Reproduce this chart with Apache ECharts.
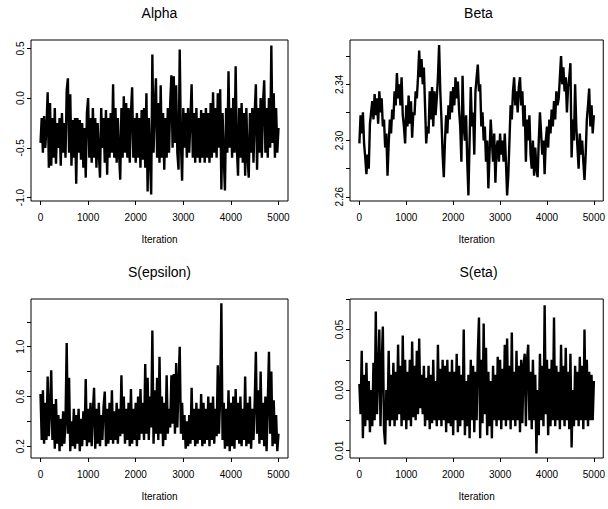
<!DOCTYPE html>
<html><head><meta charset="utf-8">
<script src="https://cdn.jsdelivr.net/npm/echarts@6/dist/echarts.min.js"></script>
<style>html,body{margin:0;padding:0;background:#fff}#c{width:608px;height:509px}</style>
</head><body><div id="c"></div>
<script>
// ---------------- data ----------------
const panelTitles = ["Alpha", "Beta", "S(epsilon)", "S(eta)"];
const xLabel = "Iteration";
const xTicks = [0, 1000, 2000, 3000, 4000, 5000];
const iterStep = 25; // one trace point read every 25 iterations
const iterations = [];
for (let i = 0; i <= 200; i++) iterations.push(i * iterStep);

const alphaTicks = [-1.0, -0.5, 0.0, 0.5];
const alphaLabels = [-1.0, -0.5, 0.0, 0.5];
const betaTicks = [2.26, 2.28, 2.30, 2.32, 2.34, 2.36];
const betaLabels = [2.26, 2.30, 2.34];
const epsTicks = [0.2, 0.4, 0.6, 0.8, 1.0, 1.2];
const epsLabels = [0.2, 0.6, 1.0];
const etaTicks = [0.01, 0.02, 0.03, 0.04, 0.05, 0.06];
const etaLabels = [0.01, 0.03, 0.05];

const alpha = [
-0.45,-0.2,-0.55,-0.18,-0.5,-0.3,0.06,-0.7,-0.05,-0.68,
-0.2,-0.6,-0.1,-0.66,-0.25,-0.5,-0.2,-0.68,-0.15,-0.55,
-0.25,-0.6,0.08,0.2,-0.55,0.04,-0.68,-0.22,-0.6,-0.2,
-0.86,-0.2,-0.55,-0.22,-0.62,-0.25,-0.7,-0.3,-0.8,-0.15,
0.0,-0.6,-0.2,-0.65,-0.1,-0.6,-0.2,-0.7,-0.25,-0.55,
-0.8,-0.1,-0.5,-0.2,-0.65,-0.12,-0.77,-0.2,-0.6,-0.15,
-0.55,0.14,-0.6,-0.1,-0.65,-0.2,-0.55,-0.82,-0.1,-0.6,
0.02,-0.55,-0.05,-0.6,-0.1,-0.65,-0.15,0.11,-0.6,-0.2,
-0.65,-0.15,-0.6,-0.2,-0.7,-0.12,-0.62,-0.1,-0.7,0.05,
-0.94,-0.2,-0.6,-0.97,0.44,-0.55,-0.1,0.2,-0.6,-0.05,
-0.65,0.13,-0.6,-0.15,-0.72,-0.2,-0.6,-0.1,-0.55,-0.05,
0.23,-0.5,0.22,-0.45,0.13,-0.55,-0.72,0.49,-0.45,-0.83,
-0.1,-0.5,-0.15,-0.6,-0.1,-0.55,-0.2,0.14,-0.6,-0.15,
-0.65,-0.1,-0.6,-0.2,-0.65,-0.12,-0.6,-0.15,-0.65,-0.1,
-0.6,-0.15,-0.65,-0.05,-0.6,0.06,-0.55,-0.1,-0.6,0.05,
-0.5,0.09,-0.92,-0.15,-0.6,-0.93,-0.1,-0.55,0.27,-0.5,
-0.1,-0.6,0.0,-0.55,0.32,-0.5,-0.78,-0.1,-0.6,-0.05,
-0.65,-0.15,-0.78,-0.1,-0.6,-0.8,-0.15,-0.55,-0.1,-0.65,
-0.15,0.14,-0.72,-0.1,-0.55,0.0,-0.6,-0.05,0.18,-0.55,
-0.1,-0.6,0.0,-0.5,0.53,-0.45,0.05,-0.6,-0.1,-0.55,
-0.3
];

const beta = [
2.298,2.318,2.305,2.32,2.298,2.288,2.276,2.29,2.28,2.312,
2.32,2.328,2.315,2.333,2.318,2.33,2.312,2.335,2.32,2.33,
2.31,2.315,2.295,2.305,2.275,2.298,2.315,2.305,2.322,2.315,
2.335,2.325,2.348,2.33,2.34,2.325,2.345,2.318,2.31,2.298,
2.325,2.31,2.332,2.312,2.328,2.302,2.32,2.318,2.335,2.33,
2.345,2.364,2.345,2.358,2.34,2.352,2.325,2.298,2.31,2.305,
2.335,2.315,2.338,2.31,2.335,2.318,2.33,2.345,2.368,2.335,
2.315,2.29,2.274,2.3,2.318,2.305,2.325,2.315,2.335,2.32,
2.338,2.325,2.345,2.33,2.342,2.322,2.31,2.285,2.346,2.31,
2.3,2.318,2.285,2.261,2.3,2.338,2.31,2.32,2.29,2.335,
2.345,2.354,2.335,2.34,2.31,2.32,2.3,2.31,2.285,2.3,
2.266,2.29,2.315,2.3,2.285,2.305,2.27,2.295,2.3,2.285,
2.305,2.29,2.3,2.285,2.305,2.285,2.261,2.275,2.3,2.325,
2.315,2.335,2.345,2.325,2.335,2.32,2.338,2.345,2.325,2.335,
2.31,2.325,2.285,2.315,2.3,2.318,2.29,2.28,2.3,2.275,
2.295,2.28,2.274,2.3,2.32,2.305,2.29,2.3,2.276,2.3,
2.31,2.295,2.315,2.305,2.322,2.31,2.328,2.315,2.335,2.325,
2.33,2.345,2.36,2.34,2.352,2.335,2.345,2.32,2.338,2.345,
2.355,2.288,2.315,2.3,2.34,2.31,2.295,2.28,2.305,2.29,
2.3,2.285,2.272,2.29,2.315,2.325,2.337,2.31,2.325,2.305,
2.318
];

const sEpsilon = [
0.62,0.25,0.65,0.22,0.55,0.25,0.76,0.28,0.5,0.81,
0.25,0.54,0.18,0.58,0.22,0.45,0.16,0.42,0.2,0.48,
0.22,0.4,1.03,0.3,0.75,0.16,0.4,0.2,0.5,0.18,
0.45,0.22,0.5,0.16,0.42,0.2,0.48,0.25,0.74,0.2,
0.5,0.23,0.55,0.2,0.48,0.67,0.18,0.5,0.22,0.55,
0.2,0.45,0.25,0.52,0.64,0.2,0.5,0.22,0.55,0.25,
0.65,0.22,0.48,0.25,0.55,0.22,0.5,0.28,0.77,0.3,
0.6,0.22,0.5,0.25,0.55,0.2,0.66,0.22,0.5,0.25,
0.55,0.2,0.6,0.25,0.66,0.3,0.55,0.25,0.86,0.3,
0.75,0.25,0.6,0.35,1.13,0.22,0.65,0.3,0.75,0.25,
0.92,0.3,0.6,0.2,0.55,0.25,0.77,0.3,0.5,0.35,
0.77,0.38,0.78,0.3,0.87,0.35,0.7,1.0,0.3,0.55,
0.25,0.45,0.18,0.4,0.2,0.45,0.22,0.67,0.25,0.5,
0.2,0.55,0.22,0.5,0.25,0.62,0.2,0.55,0.22,0.5,
0.25,0.6,0.2,0.55,0.25,0.6,0.22,0.5,0.28,0.85,
0.3,0.6,1.35,0.25,0.55,0.18,0.5,0.2,0.65,0.16,
0.55,0.2,0.6,0.18,0.66,0.25,0.55,0.22,0.6,0.2,
0.5,0.25,0.76,0.2,0.55,0.22,0.6,0.18,0.5,0.25,
0.55,0.96,0.3,0.65,0.22,0.8,0.25,0.55,0.2,0.6,
0.16,0.55,0.96,0.3,0.8,0.2,0.57,0.22,0.45,0.16,
0.3
];

const sEta = [
0.032,0.022,0.043,0.014,0.035,0.018,0.039,0.02,0.033,0.016,
0.03,0.018,0.039,0.02,0.056,0.022,0.035,0.05,0.018,0.038,
0.051,0.017,0.012,0.03,0.02,0.043,0.018,0.035,0.02,0.039,
0.018,0.036,0.02,0.045,0.022,0.038,0.018,0.048,0.02,0.04,
0.017,0.036,0.02,0.04,0.018,0.046,0.021,0.038,0.02,0.043,
0.022,0.047,0.024,0.035,0.022,0.038,0.018,0.034,0.02,0.038,
0.017,0.035,0.019,0.04,0.02,0.033,0.018,0.045,0.02,0.037,
0.018,0.04,0.02,0.038,0.016,0.04,0.019,0.036,0.018,0.04,
0.015,0.036,0.02,0.042,0.016,0.038,0.018,0.035,0.02,0.05,
0.015,0.033,0.018,0.035,0.014,0.04,0.02,0.038,0.016,0.036,
0.02,0.042,0.054,0.014,0.04,0.019,0.052,0.022,0.044,0.015,
0.036,0.018,0.033,0.014,0.038,0.02,0.035,0.018,0.041,0.02,
0.04,0.017,0.037,0.02,0.045,0.018,0.047,0.02,0.038,0.017,
0.049,0.02,0.036,0.018,0.043,0.02,0.038,0.016,0.04,0.019,
0.038,0.042,0.018,0.04,0.045,0.02,0.036,0.017,0.04,0.02,
0.035,0.009,0.03,0.015,0.042,0.02,0.038,0.018,0.058,0.022,
0.04,0.015,0.037,0.018,0.04,0.02,0.054,0.018,0.038,0.02,
0.036,0.017,0.045,0.02,0.038,0.018,0.044,0.02,0.036,0.017,
0.042,0.011,0.03,0.018,0.038,0.02,0.036,0.018,0.041,0.02,
0.038,0.017,0.05,0.02,0.04,0.018,0.036,0.02,0.035,0.02,
0.033
];

// ---------------- layout ----------------
const FONT = "'Liberation Sans', Arial, Helvetica, sans-serif";
const panels = [
  { values: alpha,    ticks: alphaTicks, labels: alphaLabels, dec: 1, min: -1.035, max: 0.585,  lw: 2.4, grid: { left: 31,  top: 40,  width: 257, height: 161 } },
  { values: beta,     ticks: betaTicks,  labels: betaLabels,  dec: 2, min: 2.257,  max: 2.3715, lw: 2.4, grid: { left: 350, top: 40,  width: 257, height: 161 } },
  { values: sEpsilon, ticks: epsTicks,   labels: epsLabels,   dec: 1, min: 0.105,  max: 1.384,  lw: 2.4, grid: { left: 31,  top: 299, width: 257, height: 159 } },
  { values: sEta,     ticks: etaTicks,   labels: etaLabels,   dec: 2, min: 0.0075, max: 0.0601, lw: 2.4, grid: { left: 350, top: 299, width: 257, height: 159 } }
];

const grids = [], xAxes = [], yAxes = [], series = [], graphics = [];
panels.forEach((p, k) => {
  grids.push(Object.assign({ show: true, borderColor: '#000', borderWidth: 1, backgroundColor: 'transparent', containLabel: false }, p.grid));
  xAxes.push({
    type: 'value', gridIndex: k, min: -200, max: 5200, position: 'bottom',
    axisLine: { show: false, onZero: false }, splitLine: { show: false },
    axisTick: { show: true, inside: false, length: 4, customValues: xTicks, lineStyle: { color: '#000', width: 1 } },
    axisLabel: { customValues: xTicks, margin: 11, color: '#000', fontSize: 10, fontFamily: FONT,
      formatter: v => String(Math.round(v)) },
    name: xLabel, nameLocation: 'middle', nameGap: 33,
    nameTextStyle: { color: '#000', fontSize: 10, fontFamily: FONT }
  });
  yAxes.push({
    type: 'value', gridIndex: k, min: p.min, max: p.max, position: 'left',
    axisLine: { show: false, onZero: false }, splitLine: { show: false },
    axisTick: { show: true, inside: false, length: 4, customValues: p.ticks, lineStyle: { color: '#000', width: 1 } },
    axisLabel: { customValues: p.labels, rotate: 90, margin: 6, color: '#000', fontSize: 10, fontFamily: FONT,
      formatter: v => Number(v).toFixed(p.dec) }
  });
  series.push({
    type: 'line', xAxisIndex: k, yAxisIndex: k,
    data: iterations.map((it, i) => [it, p.values[i]]),
    showSymbol: false, symbol: 'none', sampling: null, clip: true,
    lineStyle: { color: '#000', width: p.lw, join: 'bevel' }, animation: false
  });
  graphics.push({
    type: 'text', x: p.grid.left + p.grid.width / 2, y: p.grid.top - 27,
    style: { text: panelTitles[k], fill: '#000', font: '14px ' + FONT,
      textAlign: 'center', textVerticalAlign: 'middle', align: 'center', verticalAlign: 'middle' }
  });
});

const chart = echarts.init(document.getElementById('c'), null, { renderer: 'svg' });
chart.setOption({
  backgroundColor: '#fff', animation: false,
  grid: grids, xAxis: xAxes, yAxis: yAxes, series: series, graphic: graphics
});
</script>
</body></html>
